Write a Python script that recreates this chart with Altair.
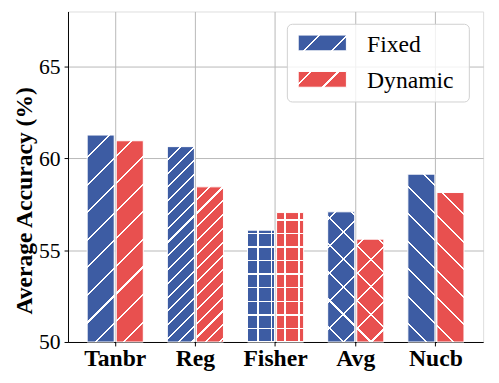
import math
import altair as alt
import pandas as pd

# ---------------- data ----------------
categories = ["Tanbr", "Reg", "Fisher", "Avg", "Nucb"]
series = ["Fixed", "Dynamic"]
fixed_vals = [61.27, 60.64, 56.09, 57.09, 59.14]
dynamic_vals = [60.96, 58.45, 57.05, 55.60, 58.14]
hatches = ["/", "//", "+", "x", "\\"]
colors = {"Fixed": "#3D5CA3", "Dynamic": "#E8504F"}
y_ticks = [50, 55, 60, 65]
y_domain = [50, 68]
y_title = "Average Accuracy (%)"

rows = []
for c, fv, dv in zip(categories, fixed_vals, dynamic_vals):
    rows.append({"category": c, "series": "Fixed", "value": fv})
    rows.append({"category": c, "series": "Dynamic", "value": dv})
df = pd.DataFrame(rows)

# ---------------- geometry / style ----------------
W, H = 422, 336
PI, PO = 0.30, 0.239
PI_OFF = 0.07
HATCH = "white"
CLEAR = "rgba(255,255,255,0)"
LW = 1.5
FONT = "Liberation Serif"

step = W / (len(categories) - PI + 2 * PO)
bw = step * (1 - PI)
step_o = bw / (len(series) - PI_OFF)
bar_w = step_o * (1 - PI_OFF)


def centers(L, phase, P, half):
    out = []
    s = (phase % P) - P
    while s <= L + half:
        if s >= -half:
            out.append(s)
        s += P
    return out


def make_stops(cs, half, L, base):
    st = [(0.0, base)]
    for c in cs:
        a = max(0.0, (c - half) / L)
        b = min(1.0, (c + half) / L)
        if b <= 0 or a >= 1:
            continue
        st += [(a, base), (a, HATCH), (b, HATCH), (b, base)]
    st.append((1.0, base))
    return [alt.GradientStop(offset=o, color=col) for o, col in st]


def hatch_gradient(kind, P, x0, y0, w, h, base):
    k = h / w
    dx = (1 + k) / (1 + k * k)
    dy = k * dx
    if kind == "/":
        L = w + h
        half = LW * math.sqrt(2) / 2
        cs = centers(L, -(x0 + y0), P, half)
        return alt.LinearGradient(gradient="linear", stops=make_stops(cs, half, L, base),
                                  x1=0, y1=0, x2=dx, y2=dy)
    if kind == "\\":
        L = w + h
        half = LW * math.sqrt(2) / 2
        cs = centers(L, h - x0 + y0, P, half)
        return alt.LinearGradient(gradient="linear", stops=make_stops(cs, half, L, base),
                                  x1=0, y1=1, x2=dx, y2=1 - dy)
    if kind == "|":
        half = LW / 2
        cs = centers(w, -x0, P, half)
        return alt.LinearGradient(gradient="linear", stops=make_stops(cs, half, w, base),
                                  x1=0, y1=0, x2=1, y2=0)
    # "-"
    half = LW / 2
    cs = centers(h, H - y0, P, half)
    return alt.LinearGradient(gradient="linear", stops=make_stops(cs, half, h, base),
                              x1=0, y1=0, x2=0, y2=1)


pattern_parts = {
    "/": [("/", 28)],
    "//": [("/", 14)],
    "+": [("|", 13.8), ("-", 13.8)],
    "x": [("/", 28), ("\\", 28)],
    "\\": [("\\", 28)],
}

x_enc = alt.X(
    "category:N",
    sort=categories,
    scale=alt.Scale(domain=categories, paddingInner=PI, paddingOuter=PO),
    axis=alt.Axis(
        title=None, labelAngle=0, labelFontSize=24, labelFontWeight="bold",
        labelFont=FONT, labelColor="black", labelPadding=1, tickSize=4,
        bandPosition=0.5, grid=True, gridColor="#b8b8b8", gridWidth=1,
        domainColor="black", tickColor="black",
    ),
)
xo_enc = alt.XOffset(
    "series:N", sort=series,
    scale=alt.Scale(domain=series, paddingInner=PI_OFF, paddingOuter=0),
)
y_enc = alt.Y(
    "value:Q",
    scale=alt.Scale(domain=y_domain, nice=False, zero=False),
    axis=alt.Axis(
        values=y_ticks, title=y_title, titleFont=FONT, titleFontSize=24,
        titleFontWeight="bold", titleColor="black", titleAngle=270,
        titleX=-37, titleY=192, titleAlign="center", titleBaseline="alphabetic",
        labelFont=FONT, labelFontSize=22, labelColor="black", labelPadding=4,
        tickSize=4, grid=True, gridColor="#b8b8b8", gridWidth=1,
        domainColor="black", tickColor="black",
    ),
)

layers = []
for i, cat in enumerate(categories):
    for j, s in enumerate(series):
        v = fixed_vals[i] if s == "Fixed" else dynamic_vals[i]
        x0 = step * PO + i * step + j * step_o
        y0 = (y_domain[1] - v) / (y_domain[1] - y_domain[0]) * H
        h = H - y0
        parts = pattern_parts[hatches[i]]
        for pi_, (kind, P) in enumerate(parts):
            base = colors[s] if pi_ == 0 else CLEAR
            grad = hatch_gradient(kind, P, x0, y0, bar_w, h, base)
            layer = (
                alt.Chart(df)
                .transform_filter((alt.datum.category == cat) & (alt.datum.series == s))
                .mark_bar(fill=grad, stroke="white" if pi_ == 0 else CLEAR,
                          strokeWidth=1 if pi_ == 0 else 0)
                .encode(x=x_enc, xOffset=xo_enc, y=y_enc, y2=alt.datum(y_domain[0]))
            )
            layers.append(layer)

# ---------------- legend (manual) ----------------
box = alt.Chart(pd.DataFrame({"k": [0]})).mark_rect(
    fill="white", fillOpacity=0.8, stroke="#d0d0d0", strokeWidth=1, cornerRadius=5
).encode(x=alt.value(223), x2=alt.value(408), y=alt.value(13), y2=alt.value(92))
layers.append(box)

sw_x, sw_w, sw_h = 234, 49, 16
sw_y = {"Fixed": 24, "Dynamic": 61}
txt_y = {"Fixed": 41, "Dynamic": 78}
for s in series:
    g = hatch_gradient("/", 28, sw_x, sw_y[s], sw_w, sw_h, colors[s])
    sw = alt.Chart(pd.DataFrame({"series": [s]})).mark_rect(
        fill=g, stroke="white", strokeWidth=1
    ).encode(x=alt.value(sw_x), x2=alt.value(sw_x + sw_w),
             y=alt.value(sw_y[s]), y2=alt.value(sw_y[s] + sw_h))
    tx = alt.Chart(pd.DataFrame({"series": [s]})).mark_text(
        font=FONT, fontSize=24, color="black", align="left", baseline="alphabetic"
    ).encode(x=alt.value(304), y=alt.value(txt_y[s]), text="series:N")
    layers += [sw, tx]

chart = (
    alt.layer(*layers)
    .properties(
        width=W, height=H,
        padding={"left": 61, "top": 0.5, "right": 8, "bottom": 30.5},
        autosize="none",
    )
    .configure_view(stroke="black", strokeWidth=1)
    .configure(background="white")
)

chart.save("out.html", embed_options={"renderer": "svg", "actions": False})
